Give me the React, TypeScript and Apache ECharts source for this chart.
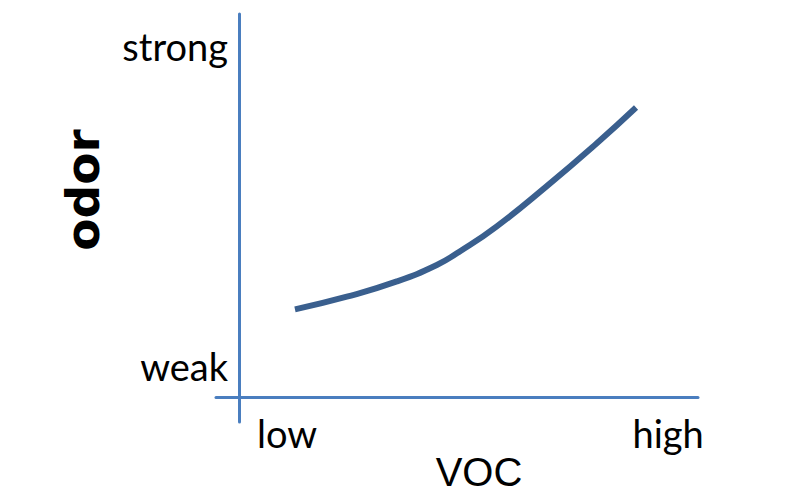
import React, { useEffect, useRef } from "react";
import * as echarts from "echarts";

const curveX = [12.2, 23.5, 34.4, 43.1, 48.1, 56.1, 67.0, 77.9, 86.5];
const curveY = [22.9, 26.2, 30.2, 34.5, 38.0, 44.5, 55.0, 66.2, 75.6];
const xTickValues = [10.5, 93.5];
const xTickLabels = ["low", "high"];
const yTickValues = [8.1, 91.6];
const yTickLabels = ["weak", "strong"];
const xTitle = "VOC";
const yTitle = "odor";

export default function App() {
  const ref = useRef<HTMLDivElement>(null);
  useEffect(() => {
    if (!ref.current) return;
    const chart = echarts.init(ref.current, undefined, { renderer: "svg" });
    const axisColor = "#4a7ebf";
    chart.setOption({
      animation: false,
      backgroundColor: "#ffffff",
      grid: { left: 216, right: 101, top: 14, bottom: 80 },
      xAxis: {
        type: "value",
        min: -5,
        max: 100,
        splitLine: { show: false },
        axisTick: { show: false },
        axisLine: { show: true, onZero: true, lineStyle: { color: axisColor, width: 3 } },
        axisLabel: {
          customValues: xTickValues,
          formatter: (v: number) => xTickLabels[xTickValues.indexOf(v)] ?? "",
          fontFamily: "Lato",
          fontSize: 38,
          color: "#000",
          margin: 11,
          verticalAlign: "middle",
        },
      },
      yAxis: {
        type: "value",
        min: -6.5,
        max: 100,
        splitLine: { show: false },
        axisTick: { show: false },
        axisLine: { show: true, onZero: true, lineStyle: { color: axisColor, width: 3 } },
        axisLabel: {
          customValues: yTickValues,
          formatter: (v: number) => yTickLabels[yTickValues.indexOf(v)] ?? "",
          fontFamily: "Lato",
          fontSize: 38,
          color: "#000",
          margin: -12,
        },
      },
      graphic: [
        {
          type: "text",
          x: 479,
          y: 472,
          style: {
            text: xTitle,
            font: "40px 'Liberation Sans'",
            fill: "#000",
            align: "center",
            verticalAlign: "middle",
          },
        },
        {
          type: "text",
          x: 82,
          y: 190,
          rotation: Math.PI / 2,
          style: {
            text: yTitle,
            font: "bold 47px 'DejaVu Sans'",
            fill: "#000",
            align: "center",
            verticalAlign: "middle",
          },
        },
      ],
      series: [
        {
          type: "line",
          smooth: true,
          symbol: "none",
          data: curveX.map((x, i) => [x, curveY[i]]),
          lineStyle: { color: "#3a5f8e", width: 6 },
        },
      ],
    });
    return () => chart.dispose();
  }, []);
  return <div ref={ref} style={{ width: 799, height: 502, position: "absolute", left: 0, top: 0 }} />;
}
